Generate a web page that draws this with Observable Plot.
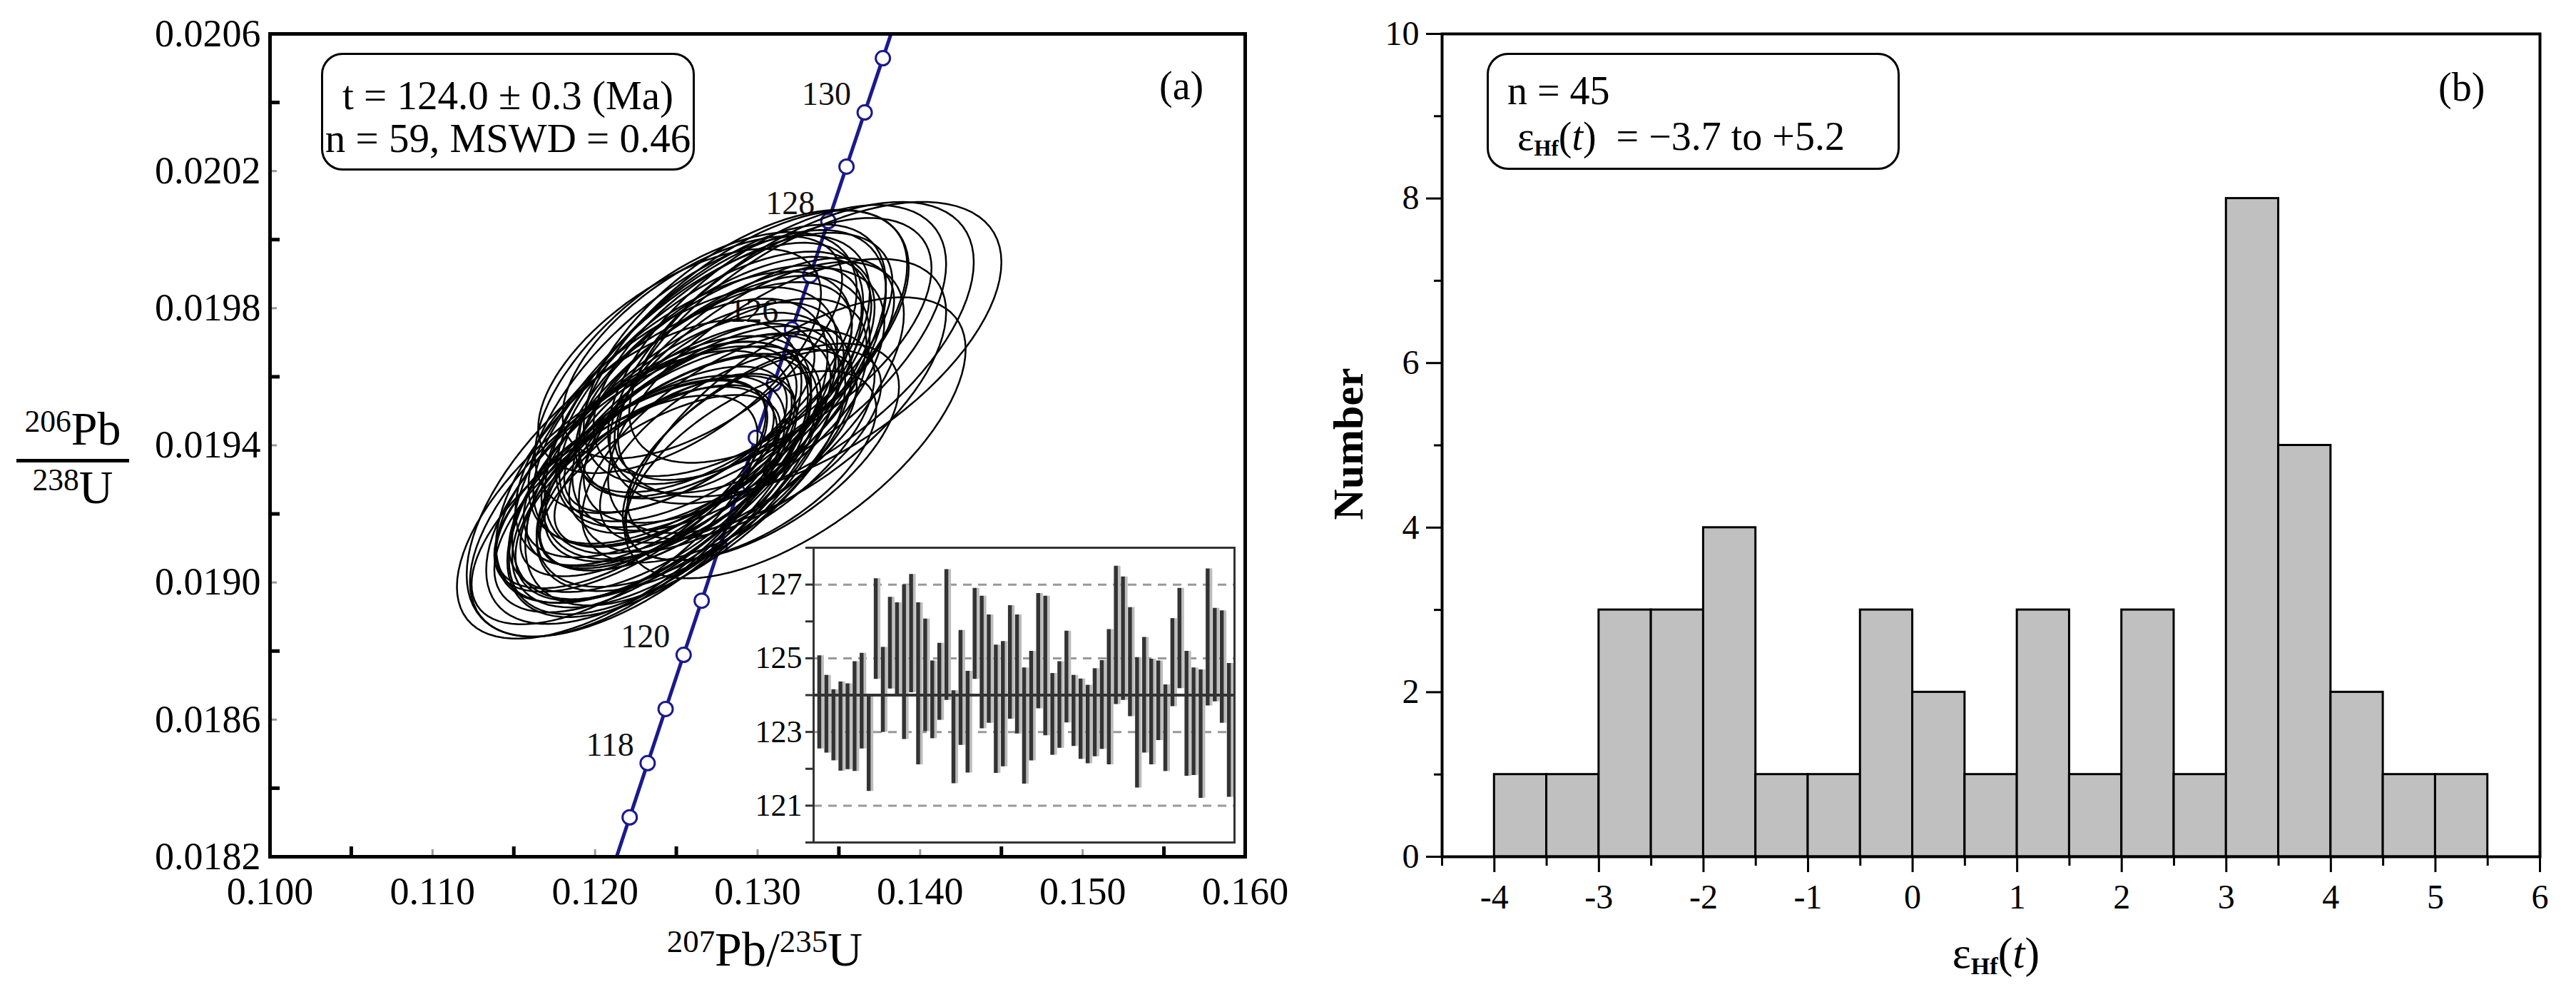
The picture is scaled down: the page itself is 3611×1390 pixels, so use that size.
<!DOCTYPE html>
<html><head><meta charset="utf-8">
<script src="https://cdn.jsdelivr.net/npm/d3@7"></script>
<script src="https://cdn.jsdelivr.net/npm/@observablehq/plot@0.6"></script>
<style>
body{margin:0;background:#fff;}
#root{position:relative;width:3611px;height:1390px;background:#fff;font-family:"Liberation Serif","Times New Roman",serif;color:#000;overflow:hidden}
.abs{position:absolute;white-space:nowrap}
.sup{font-size:0.66em;position:relative;top:-0.42em}
.sub{font-size:0.55em;font-weight:bold;position:relative;top:0.25em}
svg{position:absolute;max-width:none}
</style></head><body><div id="root">
<div class="abs" style="left:10px;top:566px;width:184px;text-align:center;font-size:66px;line-height:70px"><span class="sup">206</span>Pb</div>
<div class="abs" style="left:23px;top:643px;width:158px;height:5px;background:#000"></div>
<div class="abs" style="left:10px;top:648px;width:184px;text-align:center;font-size:66px;line-height:70px"><span class="sup">238</span>U</div>
<div class="abs" style="left:867px;top:1294px;width:410px;text-align:center;font-size:68px;line-height:72px"><span class="sup">207</span>Pb/<span class="sup">235</span>U</div>
<div class="abs" style="left:450px;top:74px;width:524px;height:165px;box-sizing:border-box;border:3px solid #000;border-radius:30px;text-align:center;font-size:57px;line-height:60px;padding-top:27px">t = 124.0 ± 0.3 (Ma)<br>n = 59, MSWD = 0.46</div>
<div class="abs" style="left:1625px;top:88px;font-size:56px;line-height:64px">(a)</div>
<div class="abs" style="left:2084px;top:74px;width:579px;height:164px;box-sizing:border-box;border:3px solid #000;border-radius:30px;font-size:56px;line-height:64px;padding-left:26px;padding-top:18px">n = 45<br>&nbsp;ε<span class="sub">Hf</span>(<i>t</i>)&nbsp; = −3.7 to +5.2</div>
<div class="abs" style="left:3418px;top:90px;font-size:56px;line-height:64px">(b)</div>
<div class="abs" style="left:1740px;top:590px;width:300px;text-align:center;font-size:60px;line-height:64px;font-weight:bold;transform:rotate(-90deg)">Number</div>
<div class="abs" style="left:2648px;top:1300px;width:300px;text-align:center;font-size:62px;line-height:70px">ε<span class="sub">Hf</span>(<i>t</i>)</div>
</div>
<script>
// ---- Panel (a): concordia reference points (age in Ma, 207Pb/235U, 206Pb/238U)
const concAge = [116,117,118,119,120,121,122,123,124,125,126,127,128,129,130,131,132];
const concX = [0.121024,0.122129,0.123234,0.124341,0.125449,0.126560,0.127668,0.128779,0.129891,0.131005,0.132119,0.133235,0.134351,0.135469,0.136588,0.137708,0.138829];
const concY = [0.018157,0.018315,0.018473,0.018631,0.018789,0.018947,0.019106,0.019264,0.019422,0.019580,0.019738,0.019896,0.020054,0.020213,0.020371,0.020529,0.020688];
const markerAges = [117,118,119,120,121,122,123,124,125,126,127,128,129,130,131];
const labelAges = [118,120,126,128,130];

// ---- Panel (a): analyses (ellipse centres, 2-sigma half widths, error correlation)
const ellX = [0.1257,0.1296,0.1240,0.1232,0.1222,0.1236,0.1282,0.1212,0.1314,0.1266,
0.1252,0.1298,0.1274,0.1293,0.1257,0.1260,0.1298,0.1258,0.1312,0.1225,
0.1250,0.1244,0.1266,0.1264,0.1282,0.1250,0.1241,0.1274,0.1290,0.1232,
0.1261,0.1262,0.1273,0.1238,0.1240,0.1280,0.1249,0.1245,0.1232,0.1249,
0.1302,0.1263,0.1332,0.1291,0.1274,0.1224,0.1323,0.1259,0.1282,0.1222,
0.1274,0.1291,0.1248,0.1244,0.1218,0.1321,0.1276,0.1312,0.1228];
const ellY = [0.019392,0.019341,0.019294,0.019288,0.019288,0.019330,0.019397,0.019212,0.019706,0.019446,
0.019646,0.019623,0.019564,0.019687,0.019471,0.019507,0.019403,0.019480,0.019681,0.019242,
0.019454,0.019307,0.019686,0.019563,0.019534,0.019362,0.019384,0.019563,0.019512,0.019291,
0.019376,0.019612,0.019548,0.019340,0.019381,0.019501,0.019356,0.019319,0.019297,0.019348,
0.019381,0.019414,0.019680,0.019665,0.019564,0.019304,0.019422,0.019351,0.019398,0.019281,
0.019563,0.019665,0.019343,0.019308,0.019256,0.019670,0.019594,0.019544,0.019272];
const ellSX = [0.0088,0.0077,0.0074,0.0085,0.0083,0.0097,0.0090,0.0088,0.0093,0.0082,
0.0087,0.0086,0.0105,0.0100,0.0108,0.0098,0.0078,0.0077,0.0104,0.0087,
0.0099,0.0093,0.0086,0.0105,0.0096,0.0103,0.0102,0.0098,0.0100,0.0099,
0.0097,0.0099,0.0106,0.0080,0.0084,0.0087,0.0074,0.0079,0.0078,0.0084,
0.0085,0.0106,0.0118,0.0101,0.0096,0.0103,0.0105,0.0095,0.0079,0.0084,
0.0084,0.0092,0.0102,0.0095,0.0103,0.0112,0.0088,0.0104,0.0105];
const ellSY = [0.000331,0.000276,0.000253,0.000316,0.000305,0.000389,0.000339,0.000334,0.000357,0.000302,
0.000327,0.000324,0.000480,0.000400,0.000520,0.000400,0.000276,0.000275,0.000420,0.000329,
0.000407,0.000360,0.000324,0.000450,0.000383,0.000455,0.000444,0.000402,0.000423,0.000412,
0.000389,0.000410,0.000480,0.000290,0.000308,0.000327,0.000253,0.000284,0.000279,0.000313,
0.000316,0.000481,0.000430,0.000420,0.000386,0.000462,0.000410,0.000376,0.000282,0.000308,
0.000313,0.000355,0.000444,0.000381,0.000420,0.000440,0.000331,0.000400,0.000430];
const ellRho = [0.62,0.60,0.64,0.58,0.66,0.62,0.61,0.65,0.59,0.63,
0.60,0.62,0.64,0.58,0.66,0.61,0.63,0.65,0.59,0.62,
0.60,0.64,0.61,0.63,0.59,0.65,0.62,0.60,0.64,0.62,
0.61,0.59,0.63,0.65,0.62,0.60,0.64,0.61,0.66,0.62,
0.60,0.63,0.59,0.62,0.64,0.61,0.63,0.60,0.62,0.65,
0.61,0.59,0.63,0.62,0.64,0.60,0.62,0.61,0.63];

// ---- Inset: 206Pb/238U ages (Ma), upper and lower error limits
const ageHi = [125.07,124.54,124.15,124.36,124.31,124.91,125.14,123.95,127.16,125.30,
126.66,126.51,127.00,127.28,126.51,126.07,124.93,125.41,127.41,124.12,
125.76,124.65,126.90,126.69,126.18,125.36,125.46,126.43,126.18,124.74,
125.19,126.76,126.69,124.59,124.91,125.74,124.54,124.44,124.27,124.72,
124.94,125.78,127.50,127.21,126.38,125.02,125.57,124.98,124.93,124.28,
126.08,126.90,125.19,124.74,124.69,127.43,126.36,126.29,124.86];
const ageLo = [122.54,122.43,122.22,121.94,121.98,121.93,122.54,121.39,124.43,122.99,
124.17,124.03,122.80,124.07,122.11,123.01,122.82,123.32,123.86,121.60,
122.64,121.89,124.43,123.09,123.24,121.88,122.06,123.35,122.95,121.59,
122.22,123.63,122.90,122.37,122.56,123.25,122.61,122.26,122.14,122.33,
122.53,122.11,123.75,123.86,123.42,121.48,122.43,122.11,122.77,121.93,
123.69,124.18,121.80,121.82,121.20,123.71,123.82,123.24,121.23];
const meanAge = 124.0;
const insetGrid = [121,123,125,127];
const insetTicks = [120,121,122,123,124,125,126,127,128];

// ---- Panel (b): epsilon Hf(t) histogram
const binEdges = [-4,-3.5,-3,-2.5,-2,-1.5,-1,-0.5,0,0.5,1,1.5,2,2.5,3,3.5,4,4.5,5,5.5];
const binCounts = [1,1,3,3,4,1,1,3,2,1,3,1,3,1,8,5,2,1,1];

// ---- Tick labels
const aXTicks = [0.100,0.110,0.120,0.130,0.140,0.150,0.160];
const aXMinor = [0.105,0.115,0.125,0.135,0.145,0.155];
const aYTicks = [0.0182,0.0186,0.0190,0.0194,0.0198,0.0202,0.0206];
const aYMinor = [0.0184,0.0188,0.0192,0.0196,0.0200,0.0204];
const bXTicks = [-4,-3,-2,-1,0,1,2,3,4,5,6];
const bXMinor = [-4.5,-3.5,-2.5,-1.5,-0.5,0.5,1.5,2.5,3.5,4.5,5.5];
const bYTicks = [0,2,4,6,8,10];
const bYMinor = [1,3,5,7,9];

const root = document.getElementById("root");
const navy = "#1a1a8e";
const FONT = "'Liberation Serif','Times New Roman',serif";

// Build tables
const conc = concAge.map((a,i)=>({age:a,x:concX[i],y:concY[i]}));
const markers = conc.filter(d=>markerAges.includes(d.age));
const labels = conc.filter(d=>labelAges.includes(d.age));
const ellPts = [];
const N = 90;
ellX.forEach((cx,i)=>{
  const a = ellSX[i], b = ellSY[i], r = ellRho[i], q = Math.sqrt(1-r*r);
  for (let k=0;k<=N;k++){
    const t = 2*Math.PI*k/N;
    ellPts.push({id:i, x: cx + a*Math.cos(t), y: ellY[i] + b*(r*Math.cos(t) + q*Math.sin(t))});
  }
});

// Panel (a)
const A = {w:1800,h:1390,ml:378,mr:55,mt:47,mb:190};
const aFW = A.w-A.ml-A.mr, aFH = A.h-A.mt-A.mb;
const plotA = Plot.plot({
  width:A.w, height:A.h, marginLeft:A.ml, marginRight:A.mr, marginTop:A.mt, marginBottom:A.mb,
  x:{domain:[0.1,0.16]}, y:{domain:[0.0182,0.0206]},
  style:{fontFamily:FONT, fontSize:"54px", background:"transparent", color:"#000", overflow:"visible"},
  marks:[
    Plot.line(conc,{x:"x",y:"y",stroke:navy,strokeWidth:5,clip:true}),
    Plot.dot(markers,{x:"x",y:"y",r:10,fill:"white",stroke:navy,strokeWidth:3,clip:true}),
    Plot.text(labels,{x:"x",y:"y",text:d=>String(d.age),textAnchor:"end",dx:-19,dy:-25,fontSize:46,fill:"#111"}),
    Plot.line(ellPts,{x:"x",y:"y",z:"id",stroke:"#000",strokeWidth:2.5,clip:true}),
    Plot.tickX(aXMinor,{x:d=>d,insetTop:aFH-14,stroke:"#000",strokeWidth:5}),
    Plot.tickX(aXTicks,{x:d=>d,insetTop:aFH-10,stroke:"#999",strokeWidth:3}),
    Plot.tickY(aYMinor,{y:d=>d,insetRight:aFW-14,stroke:"#000",strokeWidth:5}),
    Plot.tickY(aYTicks,{y:d=>d,insetRight:aFW-10,stroke:"#999",strokeWidth:3}),
    Plot.axisX({ticks:aXTicks,tickSize:0,tickPadding:28,tickFormat:d3.format(".3f"),label:null}),
    Plot.axisY({ticks:aYTicks,tickSize:0,tickPadding:13,tickFormat:d3.format(".4f"),label:null}),
    Plot.frame({stroke:"#000",strokeWidth:5})
  ]
});
plotA.style.left="0px"; plotA.style.top="0px";
root.appendChild(plotA);

// Inset
const I = {left:1030, top:757, w:710, h:433, ml:110, mr:10, mt:10, mb:10};
const inset = ageHi.map((h,i)=>({i, hi:h, lo:ageLo[i]}));
const plotI = Plot.plot({
  width:I.w, height:I.h, marginLeft:I.ml, marginRight:I.mr, marginTop:I.mt, marginBottom:I.mb,
  x:{domain:[-0.8,58.8], axis:null}, y:{domain:[120,128]},
  style:{fontFamily:FONT, fontSize:"44px", background:"transparent", color:"#000", overflow:"visible"},
  marks:[
    Plot.frame({fill:"white",stroke:null}),
    Plot.ruleY(insetGrid,{y:d=>d,stroke:"#999",strokeWidth:3,strokeDasharray:"12,9"}),
    Plot.ruleX(inset,{x:"i",y1:"lo",y2:"hi",stroke:"#bdbdbd",strokeWidth:4,dx:4.5}),
    Plot.ruleX(inset,{x:"i",y1:"lo",y2:"hi",stroke:"#333",strokeWidth:5.5}),
    Plot.ruleY([meanAge],{y:d=>d,stroke:"#333",strokeWidth:4}),
    Plot.axisY({ticks:insetTicks,tickSize:11,tickFormat:()=>"",stroke:"#333",strokeWidth:3,label:null}),
    Plot.axisY({ticks:insetGrid,tickSize:0,tickPadding:16,label:null}),
    Plot.frame({stroke:"#333",strokeWidth:3})
  ]
});
plotI.style.left=I.left+"px"; plotI.style.top=I.top+"px";
root.appendChild(plotI);

// Panel (b)
const B = {left:1850, w:1761, h:1390, ml:171, mr:51, mt:47, mb:190};
const hist = binCounts.map((c,i)=>({x1:binEdges[i], x2:binEdges[i+1], n:c}));
const plotB = Plot.plot({
  width:B.w, height:B.h, marginLeft:B.ml, marginRight:B.mr, marginTop:B.mt, marginBottom:B.mb,
  x:{domain:[-4.5,6]}, y:{domain:[0,10]},
  style:{fontFamily:FONT, fontSize:"48px", background:"transparent", color:"#000", overflow:"visible"},
  marks:[
    Plot.rectY(hist,{x1:"x1",x2:"x2",y:"n",fill:"#c0c0c0",stroke:"#000",strokeWidth:3}),
    Plot.axisX({ticks:bXTicks,tickSize:22,tickPadding:16,strokeWidth:3,tickFormat:d=>String(d),label:null}),
    Plot.axisX({ticks:bXMinor,tickSize:13,strokeWidth:3,tickFormat:()=>"",label:null}),
    Plot.axisY({ticks:bYTicks,tickSize:22,tickPadding:10,strokeWidth:3,tickFormat:d=>String(d),label:null}),
    Plot.axisY({ticks:bYMinor,tickSize:11,strokeWidth:3,tickFormat:()=>"",label:null}),
    Plot.frame({stroke:"#000",strokeWidth:4})
  ]
});
plotB.style.left=B.left+"px"; plotB.style.top="0px";
root.appendChild(plotB);
</script></body></html>
